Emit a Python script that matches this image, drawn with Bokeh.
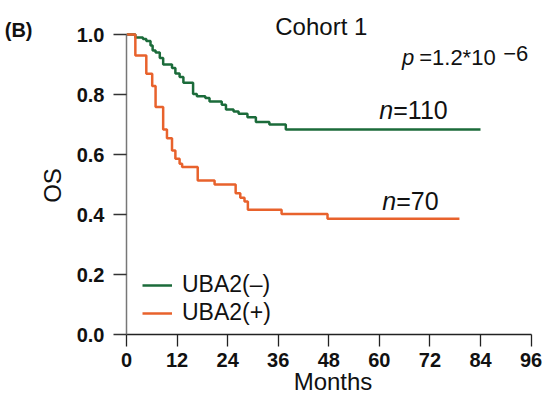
import numpy as np
from bokeh.plotting import figure
from bokeh.models import (Label, Legend, LegendItem, FixedTicker, Range1d,
                          PrintfTickFormatter, LinearAxis)
from bokeh.embed import file_html
from bokeh.resources import INLINE

# Kaplan-Meier step data (months, survival)
months_neg = [0, 2.1, 3.9, 4.7, 5.7, 6.2, 6.9, 7.9, 8.7, 10.8, 11.6, 12.6, 13.5, 15.8, 16.7,
              18.7, 19.7, 22.6, 23.6, 25.4, 26.6, 28.7, 30.7, 33.9, 37.8, 84]
surv_neg = [1.0, 0.99, 0.985, 0.978, 0.963, 0.947, 0.94, 0.922, 0.90, 0.888, 0.87, 0.858, 0.839,
            0.802, 0.794, 0.788, 0.777, 0.766, 0.75, 0.743, 0.736, 0.724, 0.708, 0.70, 0.683, 0.683]

months_pos = [0, 2.1, 4.7, 6.1, 6.9, 8.7, 9.6, 10.8, 11.6, 12.6, 13.2, 16.9, 20.9, 25.9, 27.0,
              28.0, 28.8, 36.8, 47.7, 79]
surv_pos = [1.0, 0.93, 0.869, 0.828, 0.758, 0.683, 0.654, 0.613, 0.586, 0.569, 0.558, 0.513,
            0.50, 0.471, 0.456, 0.443, 0.416, 0.402, 0.386, 0.386]

x_ticks = [0, 12, 24, 36, 48, 60, 72, 84, 96]
y_ticks = [0.0, 0.2, 0.4, 0.6, 0.8, 1.0]

labels = ["UBA2(\u2013)", "UBA2(+)"]
n_labels = ["=110", "=70"]
p_text = "=1.2*10"
p_exp = "\u22126"
title_text = "Cohort 1"
panel_text = "(B)"
x_label = "Months"
y_label = "OS"

GREEN = "#1b6b3a"
ORANGE = "#e8622c"
FONT = "Liberation Sans"
TXT = "#111111"

p = figure(width=545, height=400, output_backend="svg", toolbar_location=None,
           x_range=Range1d(0, 98), y_range=Range1d(0, 1.06),
           min_border_left=126, min_border_right=6, min_border_top=16, min_border_bottom=66)
p.outline_line_color = None
p.xgrid.visible = False
p.ygrid.visible = False
p.background_fill_color = "white"

l1 = p.step(months_neg, surv_neg, mode="after", line_color=GREEN, line_width=2.5)
l2 = p.step(months_pos, surv_pos, mode="after", line_color=ORANGE, line_width=2.5)

# axes
for ax in (p.xaxis[0], p.yaxis[0]):
    ax.major_label_text_font = FONT
    ax.major_label_text_font_style = "bold"
    ax.major_label_text_font_size = "20px"
    ax.major_label_text_color = TXT
    ax.axis_label_text_font = FONT
    ax.axis_label_text_font_style = "normal"
    ax.axis_label_text_font_size = "24px"
    ax.axis_label_text_color = TXT
    ax.minor_tick_line_color = None
    ax.major_tick_in = 0
    ax.major_tick_line_width = 1.3

p.xaxis.ticker = FixedTicker(ticks=x_ticks)
p.yaxis.ticker = FixedTicker(ticks=y_ticks)
p.xaxis.bounds = (x_ticks[0], x_ticks[-1])
p.yaxis.bounds = (y_ticks[0], y_ticks[-1])
p.yaxis.formatter = PrintfTickFormatter(format="%.1f")
p.xaxis.axis_label = x_label
# non-breaking spaces keep the rotated label centred on the 0-1 span
p.yaxis.axis_label = y_label + "\u00a0\u00a0\u00a0"
p.xaxis.major_tick_out = 12
p.yaxis.major_tick_out = 13
p.xaxis.major_label_standoff = 6
p.yaxis.major_label_standoff = 9
p.xaxis.axis_label_standoff = -2
p.yaxis.axis_label_standoff = 8
p.xaxis.axis_line_color = "#222222"
p.xaxis.axis_line_width = 1.5
p.xaxis.major_tick_line_color = "#222222"
p.yaxis.axis_line_color = "#777777"
p.yaxis.axis_line_width = 1.5
p.yaxis.major_tick_line_color = "#333333"

# panel letter as the label of a bare extra axis on the left
# (leading empty line lowers it to the level of the 1.0 tick)
bax = LinearAxis(ticker=FixedTicker(ticks=[]), axis_line_color=None,
                 major_tick_line_color=None, minor_tick_line_color=None,
                 axis_label="\n" + panel_text, axis_label_orientation="horizontal",
                 axis_label_align="end", axis_label_standoff=3,
                 axis_label_text_font=FONT, axis_label_text_font_style="bold",
                 axis_label_text_font_size="20px", axis_label_text_color=TXT)
p.add_layout(bax, "left")

legend = Legend(items=[LegendItem(label=labels[0], renderers=[l1]),
                       LegendItem(label=labels[1], renderers=[l2])],
                location=(16, 8), orientation="vertical")
legend.label_text_font = FONT
legend.label_text_font_size = "23px"
legend.label_text_color = TXT
legend.glyph_width = 30
legend.glyph_height = 22
legend.label_standoff = 10
legend.spacing = 1
legend.padding = 0
legend.margin = 0
legend.border_line_color = None
legend.background_fill_alpha = 0
p.add_layout(legend)

def add_label(x, y, text, size, style="normal"):
    p.add_layout(Label(x=x, y=y, text=text, text_font=FONT, text_font_size=size,
                       text_font_style=style, text_color=TXT,
                       text_baseline="alphabetic", text_align="left"))

add_label(35.3, 1.026, title_text, "24px")
add_label(65.4, 0.923, "p", "22px", "italic")
add_label(69.45, 0.923, p_text, "22px")
add_label(89.4, 0.936, p_exp, "22px")
add_label(60.0, 0.750, "n", "25px", "italic")
add_label(63.3, 0.750, n_labels[0], "25px")
add_label(60.7, 0.446, "n", "25px", "italic")
add_label(64.0, 0.446, n_labels[1], "25px")

open("out.html", "w").write(file_html(p, INLINE))
